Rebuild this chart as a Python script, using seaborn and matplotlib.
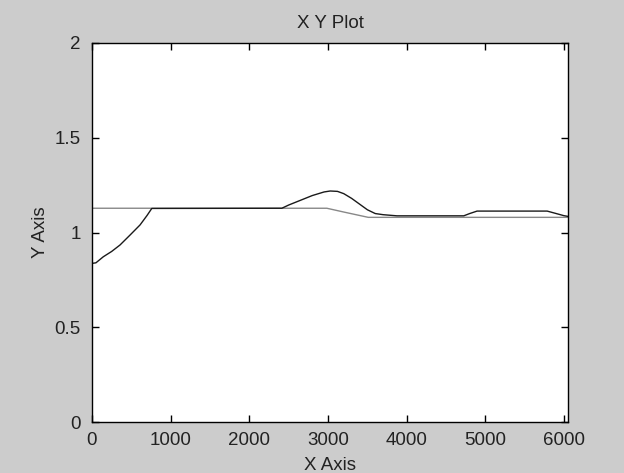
import matplotlib
matplotlib.use("Agg")
import matplotlib.pyplot as plt
import seaborn as sns

# Data
x_dark = [0, 50, 144, 250, 356, 480, 611, 700, 760, 2413, 2500, 2650, 2800, 2950,
          3028, 3120, 3200, 3300, 3400, 3500, 3600, 3700, 3876, 4725, 4800, 4894,
          5785, 5900, 5996, 6050]
y_dark = [0.837, 0.840, 0.872, 0.900, 0.934, 0.985, 1.040, 1.090, 1.127, 1.128, 1.145,
          1.170, 1.195, 1.214, 1.219, 1.217, 1.205, 1.180, 1.150, 1.120, 1.100, 1.094,
          1.088, 1.088, 1.100, 1.113, 1.113, 1.100, 1.089, 1.085]

x_gray = [0, 2985, 3200, 3511, 6050]
y_gray = [1.128, 1.128, 1.108, 1.080, 1.080]

x_ticks = [0, 1000, 2000, 3000, 4000, 5000, 6000]
y_ticks = [0, 0.5, 1, 1.5, 2]
y_tick_labels = ["0", "0.5", "1", "1.5", "2"]

sns.set_style("ticks")
plt.rcParams["font.family"] = ["Liberation Sans", "DejaVu Sans"]
txt = "#222222"

fig = plt.figure(figsize=(6.24, 4.73), dpi=100, facecolor="#cccccc")
ax = fig.add_axes([0.1474, 0.1078, 0.7629, 0.8013])
ax.set_facecolor("white")

sns.lineplot(x=x_gray, y=y_gray, ax=ax, color="#888888", linewidth=1.0, estimator=None)
sns.lineplot(x=x_dark, y=y_dark, ax=ax, color="#1a1a1a", linewidth=1.0, estimator=None)

ax.set_xlim(0, 6050)
ax.set_ylim(0, 2)
ax.set_xticks(x_ticks)
ax.set_xticklabels([str(t) for t in x_ticks])
ax.set_yticks(y_ticks)
ax.set_yticklabels(y_tick_labels)

ax.tick_params(direction="in", length=5, width=1, top=True, right=True,
               labelsize=13.5, colors="black", labelcolor=txt)
ax.tick_params(axis="x", pad=7)
ax.tick_params(axis="y", pad=8)
for s in ax.spines.values():
    s.set_visible(True)
    s.set_color("black")
    s.set_linewidth(1)

ax.set_title("X Y Plot", fontsize=13.5, pad=11, color=txt)
ax.set_xlabel("X Axis", fontsize=13.5, labelpad=6, color=txt)
ax.set_ylabel("Y Axis", fontsize=13.5, labelpad=4, color=txt)

fig.savefig("out.png", dpi=100, facecolor=fig.get_facecolor())
